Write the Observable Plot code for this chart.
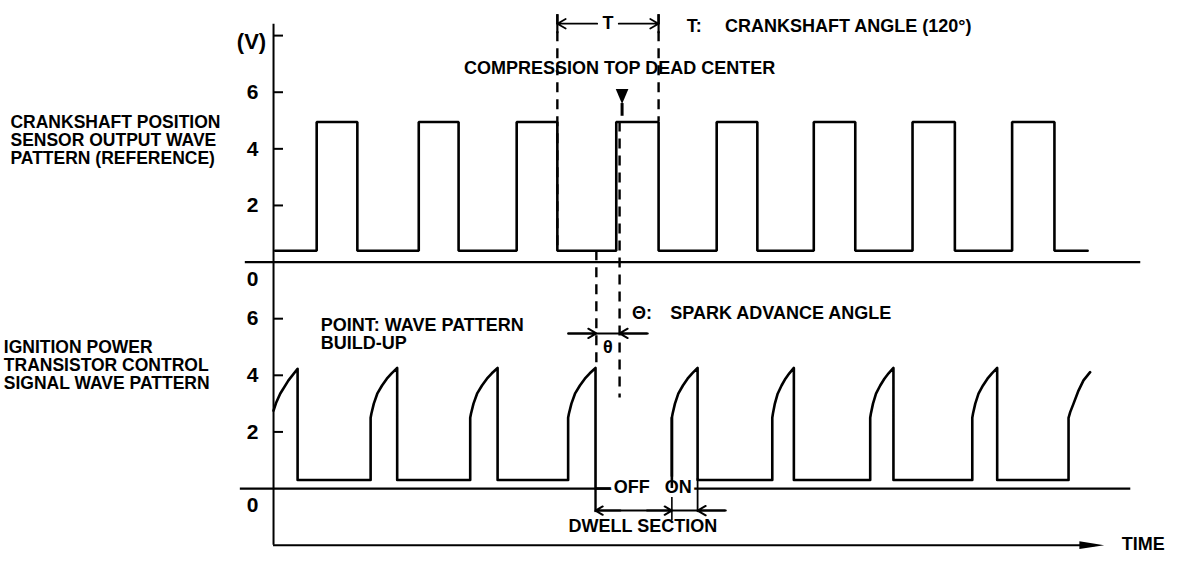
<!DOCTYPE html>
<html>
<head>
<meta charset="utf-8">
<script src="https://cdn.jsdelivr.net/npm/d3@7"></script>
<script src="https://cdn.jsdelivr.net/npm/@observablehq/plot@0.6"></script>
<style>
  html, body { margin: 0; padding: 0; background: #fff; }
  #chart svg { display: block; }
</style>
</head>
<body>
<div id="chart"></div>
<script>
// ---------------- DATA (time in crank degrees, voltage in V) ----------------
const panelOffset = 8;                 // upper trace sits 8 V above the lower one
const yTicks = [6, 4, 2];
const unitTick = 16;                   // "(V)" tick

// Crankshaft position sensor (reference) square wave
const refRise = [52, 175, 293, 413, 534, 651, 770, 890];
const refFall = [101, 223, 342, 464, 583, 701, 821, 941];
const refSpan = [2, 981];
const refHigh = 4.95;
const refLow = 0.4;

// Ignition power transistor control signal
const ignPeak = [29, 149, 270, 388, 511, 627, 747, 872];   // drop times
const ignRise = [117, 237, 355, 480, 601, 719, 842, 958];  // rise times
const ignLows = [0.3, 0.3, 0.3, 0, 0.3, 0.3, 0.3, 0.3];    // low level after each drop
const ignHead = [[0, 2.75], [3, 3.02], [8, 3.35], [18, 3.82], [29, 4.23]];
const ignTail = [[958, 2.5], [960, 2.7], [964, 3.0], [970, 3.46], [976, 3.82], [984, 4.11]];
// build-up profile: [fraction of rise->peak, volts]
const buildUp = [[0, 2.5], [0.03, 2.65], [0.12, 3.0], [0.25, 3.35], [0.43, 3.64], [0.61, 3.88], [0.79, 4.07], [1, 4.26]];

// Frame
const axisSpan = [-2, 16.4];
const baselines = [{v: 8, t1: -34, t2: 1045}, {v: 0, t1: -40, t2: 1033}];
const timeAxis = {v: -2, t2: 990, head: 986};

// Annotation positions
const tBracket = {t1: refFall[2], t2: refFall[3], v: 16.42, top: 16.74};
const tdc = 417;
const tdcMarker = {t: 420, v: 13.85, stemTop: 13.6, stemBottom: 13.15};
const dashLines = [
  {t: refFall[2], v1: 16.74, v2: 8.4},
  {t: refFall[3], v1: 16.74, v2: 12.95},
  {t: tdc, v1: 12.95, v2: 3.2},
  {t: ignPeak[3] + 1, v1: 8.4, v2: 4.25}
];
const thetaDim = {t1: 355, t2: 451, a: ignPeak[3] + 1, b: tdc, v: 5.48};
const dwell = {start: ignPeak[3], on: ignRise[3], end: ignPeak[4], v: -0.78, t2: 545};
const labelGap = {t1: 444, t2: 471, v: 0};

const labelRef = "CRANKSHAFT POSITION\nSENSOR OUTPUT WAVE\nPATTERN (REFERENCE)";
const labelIgn = "IGNITION POWER\nTRANSISTOR CONTROL\nSIGNAL WAVE PATTERN";
const sideNotes = [
  {t: -317, v: 12.29, text: labelRef},
  {t: -325, v: 4.35, text: labelIgn}
];
const startNotes = [
  {t: 498, v: 16.32, text: "T:"},
  {t: 544, v: 16.32, text: "CRANKSHAFT ANGLE (120°)"},
  {t: 432, v: 6.2, text: "Θ:"},
  {t: 478, v: 6.2, text: "SPARK ADVANCE ANGLE"},
  {t: 57, v: 5.44, text: "POINT: WAVE PATTERN\nBUILD-UP"},
  {t: 1022, v: -1.95, text: "TIME"}
];
const middleNotes = [
  {t: 417, v: 14.84, text: "COMPRESSION TOP DEAD CENTER"},
  {t: 403, v: 4.98, text: "θ"},
  {t: 445, v: -1.34, text: "DWELL SECTION"}
];
const haloNotes = [
  {t: 403, v: 16.42, text: "T"},
  {t: 457, v: 0.04, text: "OFF\u00a0\u00a0\u00a0ON"}
];

// ---------------- build series ----------------
const refPts = [{t: refSpan[0], v: refLow}];
refRise.forEach((r, i) => {
  refPts.push({t: r, v: refLow}, {t: r, v: refHigh}, {t: refFall[i], v: refHigh}, {t: refFall[i], v: refLow});
});
refPts.push({t: refSpan[1], v: refLow});
refPts.forEach(d => d.y = d.v + panelOffset);

const ignPts = ignHead.map(([t, v]) => ({t, v}));
ignPeak.forEach((p, i) => {
  ignPts.push({t: p, v: ignLows[i]}, {t: ignRise[i], v: ignLows[i]});
  if (i < ignPeak.length - 1) {
    const r = ignRise[i], q = ignPeak[i + 1];
    buildUp.forEach(([u, v]) => ignPts.push({t: r + u * (q - r), v}));
  }
});
ignTail.forEach(([t, v]) => ignPts.push({t, v}));

const tickVals = [unitTick, ...yTicks.map(v => v + panelOffset), ...yTicks];
const tickLabels = [...yTicks.map(v => ({v: v + panelOffset, text: String(v)})), ...yTicks.map(v => ({v, text: String(v)}))];
const zeroLabels = [{v: panelOffset, text: "0"}, {v: 0, text: "0"}];

// custom symbols
const slimArrow = {draw(ctx, size) { const L = Math.sqrt(size); ctx.moveTo(L * 0.5, 0); ctx.lineTo(-L * 0.5, -L * 0.16); ctx.lineTo(-L * 0.5, L * 0.16); ctx.closePath(); }};
const downTri = {draw(ctx, size) { const L = Math.sqrt(size); ctx.moveTo(-L * 0.42, -L * 0.5); ctx.lineTo(L * 0.42, -L * 0.5); ctx.lineTo(0, L * 0.5); ctx.closePath(); }};

const font = {fontFamily: "'Liberation Sans', Arial, Helvetica, sans-serif", fontWeight: "bold", fontSize: 18, fill: "black"};
const dash = {strokeDasharray: "10,7", strokeWidth: 2.4, stroke: "black"};

const chart = Plot.plot({
  width: 1200,
  height: 584,
  margin: 0,
  x: {domain: [-329, 1117], axis: null},
  y: {domain: [-3.39, 17.24], axis: null},
  style: {background: "white", overflow: "visible"},
  marks: [
    // frame
    Plot.ruleX([0], {y1: axisSpan[0], y2: axisSpan[1], strokeWidth: 2}),
    Plot.ruleY(baselines, {y: "v", x1: "t1", x2: "t2", strokeWidth: 2.2}),
    Plot.ruleY([timeAxis], {y: "v", x1: 0, x2: "t2", strokeWidth: 2}),
    Plot.dot([timeAxis], {x: "head", y: "v", symbol: slimArrow, r: 14, fill: "black", stroke: "none"}),
    Plot.ruleY(tickVals, {y: d => d, x1: 0, x2: 12, strokeWidth: 2}),
    Plot.text(tickLabels, {x: 0, y: "v", text: "text", dx: -21, ...font, fontSize: 21}),
    Plot.text(zeroLabels, {x: 0, y: "v", text: "text", dx: -21, dy: 17, ...font, fontSize: 21}),
    Plot.text([{v: unitTick}], {x: 0, y: "v", text: () => "(V)", dx: -22, dy: 6, ...font, fontSize: 22}),

    // waveforms
    Plot.line(refPts, {x: "t", y: "y", strokeWidth: 2.6, strokeLinejoin: "miter"}),
    Plot.line(ignPts, {x: "t", y: "v", strokeWidth: 2.6, strokeLinejoin: "round"}),

    // dashed guide lines
    Plot.ruleX(dashLines, {x: "t", y1: "v1", y2: "v2", ...dash}),

    // T bracket
    Plot.ruleX([tBracket.t1, tBracket.t2], {x: d => d, y1: tBracket.top, y2: tBracket.v - 0.35, strokeWidth: 2.2}),
    Plot.arrow([{a: tBracket.t1 + 48, b: tBracket.t1}, {a: tBracket.t2 - 48, b: tBracket.t2}],
      {x1: "a", x2: "b", y1: tBracket.v, y2: tBracket.v, headLength: 8, strokeWidth: 1.8}),

    // TDC marker
    Plot.ruleX([tdcMarker], {x: "t", y1: "stemTop", y2: "stemBottom", strokeWidth: 3}),
    Plot.dot([tdcMarker], {x: "t", y: "v", symbol: downTri, r: 8.5, fill: "black", stroke: "none"}),

    // theta dimension
    Plot.ruleY([thetaDim], {y: "v", x1: "t1", x2: "t2", strokeWidth: 2}),
    Plot.arrow([{a: thetaDim.t1, b: thetaDim.a}, {a: thetaDim.t2, b: thetaDim.b}],
      {x1: "a", x2: "b", y1: thetaDim.v, y2: thetaDim.v, headLength: 7, strokeWidth: 2}),

    // dwell section
    Plot.ruleX([dwell.start], {x: d => d, y1: 0, y2: -0.85, strokeWidth: 2.4}),
    Plot.ruleX([dwell.end], {x: d => d, y1: 0.35, y2: -0.85, strokeWidth: 1.8}),
    Plot.ruleX([dwell.on], {x: d => d, y1: -0.32, y2: -1.13, strokeWidth: 1.6}),
    Plot.ruleY([dwell], {y: "v", x1: "start", x2: "t2", strokeWidth: 2}),
    Plot.arrow([{a: dwell.start + 30, b: dwell.start}, {a: dwell.on - 30, b: dwell.on}, {a: dwell.t2, b: dwell.end}],
      {x1: "a", x2: "b", y1: dwell.v, y2: dwell.v, headLength: 7, strokeWidth: 2}),
    // gap in the baseline between the OFF and ON labels
    Plot.ruleY([labelGap], {y: "v", x1: "t1", x2: "t2", stroke: "white", strokeWidth: 7}),

    // texts
    Plot.text(sideNotes, {x: "t", y: "v", text: "text", textAnchor: "start", lineAnchor: "middle", lineHeight: 1.03, ...font, fontSize: 17.5}),
    Plot.text(startNotes, {x: "t", y: "v", text: "text", textAnchor: "start", lineAnchor: "middle", lineHeight: 1.0, ...font}),
    Plot.text(middleNotes, {x: "t", y: "v", text: "text", textAnchor: "middle", lineAnchor: "middle", ...font}),
    Plot.text(haloNotes, {x: "t", y: "v", text: "text", textAnchor: "middle", lineAnchor: "middle", ...font,
      stroke: "white", strokeWidth: 7, paintOrder: "stroke"}),
    // rising edge of the ON pulse passes through the "ON" label
    Plot.ruleX([dwell.on], {x: d => d, y1: 0, y2: 2.5, strokeWidth: 2.6})
  ]
});
document.getElementById("chart").append(chart);
</script>
</body>
</html>
